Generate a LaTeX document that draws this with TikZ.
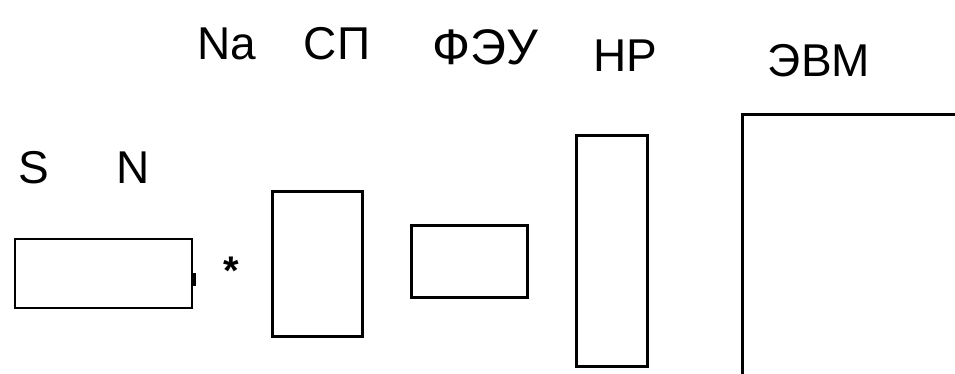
\documentclass[tikz,border=0pt]{standalone}
\usepackage{fontspec}
\setmainfont{Liberation Sans}
\usepackage{tikz}
\usetikzlibrary{positioning}
\tikzset{
  line cap=rect,
  line join=miter,
  box/.style={draw, line width=3pt, inner sep=0pt},
  thinbox/.style={draw, line width=2pt, inner sep=0pt},
  label/.style={font=\fontsize{46}{50}\selectfont, anchor=base, inner sep=0pt}
}
\begin{document}
\begin{tikzpicture}[x=1pt,y=-1pt]
  \clip (0,0) rectangle (955,374);

  % magnet
  \node[thinbox, minimum width=177pt, minimum height=69pt] (magnet) at (103.5,273.5) {};
  \fill (192,273) rectangle (196,286);
  \node[label] (S) at (34,183) {S};
  \node[label] (N) at (133,183) {N};
  \node[font=\fontsize{40}{44}\selectfont\bfseries, inner sep=0pt] (star) at (231,271) {*};

  % blocks
  \node[box, minimum width=90pt, minimum height=144pt] (sp) at (317,264) {};
  \node[box, minimum width=116pt, minimum height=72pt] (feu) at (469,261) {};
  \node[box, minimum width=71pt, minimum height=230pt] (nr) at (611.5,251) {};
  \node[box, anchor=north west, minimum width=300pt, minimum height=300pt] (evm) at (741,113) {};

  % labels
  \node[label] (na) at (227,60) {Na};
  \node[label] (splab) at (337,60) {СП};
  \node[label, font=\fontsize{50}{54}\selectfont] (feulab) at (485,65) {ФЭУ};
  \node[label] (nrlab) at (625,72) {НР};
  \node[label] (evmlab) at (819,77) {ЭВМ};
\end{tikzpicture}
\end{document}
